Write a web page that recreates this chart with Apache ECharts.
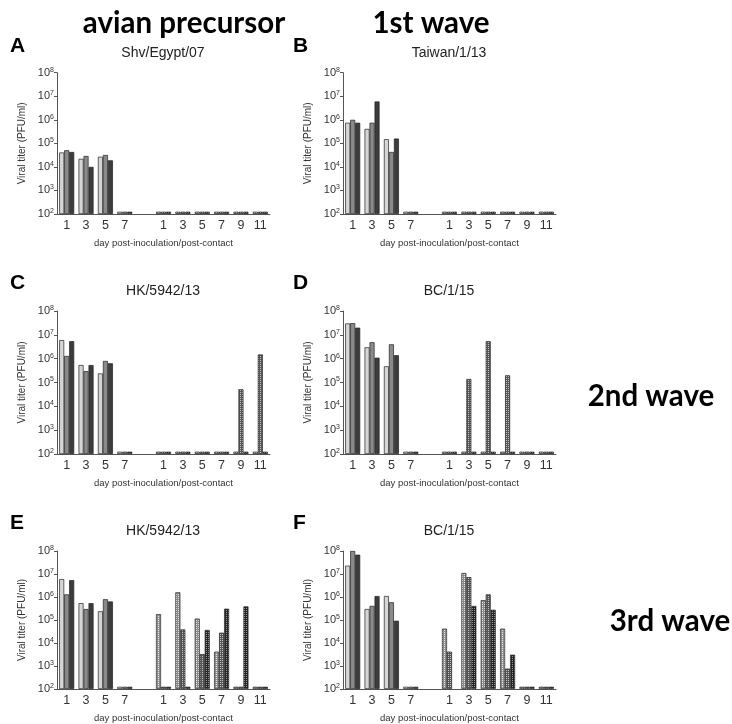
<!DOCTYPE html>
<html><head><meta charset="utf-8">
<script src="https://cdn.jsdelivr.net/npm/echarts@6/dist/echarts.min.js"></script>
<style>html,body{margin:0;padding:0;background:#fff}#c{width:732px;height:724px}</style>
</head><body><div id="c"></div>
<script>
// ---------- data ----------
const categories = ['1','3','5','7','','1','3','5','7','9','11'];
const panelLetters = ['A','B','C','D','E','F'];
const panelTitles = ['Shv/Egypt/07','Taiwan/1/13','HK/5942/13','BC/1/15','HK/5942/13','BC/1/15'];
const waveLabels = ['avian precursor','1st wave','2nd wave','3rd wave'];
const xAxisTitle = 'day post-inoculation/post-contact';
const yAxisTitle = 'Viral titer (PFU/ml)';

// inoculated animals: values for days 1,3,5,7 (one row per animal)
const A_inoculated = [[4.1e4,2.2e4,2.7e4,125],[5.1e4,2.9e4,3.2e4,125],[4.3e4,1.0e4,1.9e4,125]];
// contact animals: values for days 1,3,5,7,9,11
const A_contact = [[125,125,125,125,125,125],[125,125,125,125,125,125],[125,125,125,125,125,125]];

const B_inoculated = [[7.5e5,4.1e5,1.5e5,125],[1.0e6,7.5e5,4.3e4,125],[7.5e5,6.0e6,1.6e5,125]];
const B_contact = [[125,125,125,125,125,125],[125,125,125,125,125,125],[125,125,125,125,125,125]];

const C_inoculated = [[6.0e6,5.4e5,2.4e5,125],[1.3e6,3.0e5,8.0e5,125],[5.4e6,5.4e5,6.4e5,125]];
const C_contact = [[125,125,125,125,125,125],[125,125,125,125,5.2e4,1.5e6],[125,125,125,125,125,125]];

const D_inoculated = [[3.0e7,3.0e6,4.8e5,125],[3.1e7,4.9e6,4.0e6,125],[2.0e7,1.1e6,1.4e6,125]];
const D_contact = [[125,125,125,125,125,125],[125,1.4e5,5.4e6,2.0e5,125,125],[125,125,125,125,125,125]];

const E_inoculated = [[6.0e6,5.4e5,2.4e5,125],[1.3e6,3.0e5,8.0e5,125],[5.4e6,5.4e5,6.4e5,125]];
const E_contact = [[1.8e5,1.6e6,1.15e5,4.2e3,125,125],[125,3.9e4,3.3e3,2.8e4,125,125],[125,125,3.7e4,3.1e5,3.9e5,125]];

const F_inoculated = [[2.3e7,3.0e5,1.1e6,125],[1.0e8,4.1e5,5.9e5,125],[6.9e7,1.1e6,9.3e4,125]];
const F_contact = [[4.2e4,1.1e7,7.3e5,4.2e4,125,125],[4.2e3,7.3e6,1.3e6,7.7e2,125,125],[null,4.1e5,2.8e5,3.1e3,125,125]];

const panelsInoculated = [A_inoculated,B_inoculated,C_inoculated,D_inoculated,E_inoculated,F_inoculated];
const panelsContact = [A_contact,B_contact,C_contact,D_contact,E_contact,F_contact];

// ---------- layout & style ----------
const gridBoxes = [
  {left:57, top:72.7, width:213, height:141.3},
  {left:343, top:72.7, width:213, height:141.3},
  {left:57, top:311, width:213, height:143},
  {left:343, top:311, width:213, height:143},
  {left:57, top:551, width:213, height:142.3},
  {left:343, top:551, width:213, height:142.3}
];
const FONT = '"Liberation Sans", Arial, sans-serif';
const solidColors = ['#d6d6d6','#8a8a8a','#3c3c3c'];
function makePattern(dot, bg){
  const c = document.createElement('canvas');
  c.width = 2; c.height = 2;
  const g = c.getContext('2d');
  g.fillStyle = bg; g.fillRect(0,0,2,2);
  g.fillStyle = dot; g.fillRect(0,0,1,1);
  return {image: c, repeat: 'repeat'};
}
const patternColors = [makePattern('#e8e8e8','#8c8c8c'), makePattern('#c4c4c4','#575757'), makePattern('#9a9a9a','#252525')];

const grid = [], xAxis = [], yAxis = [], series = [], graphic = [];
gridBoxes.forEach((b, i) => {
  grid.push({left:b.left, top:b.top, width:b.width, height:b.height, containLabel:false});
  xAxis.push({
    type:'category', gridIndex:i, data:categories,
    axisLine:{lineStyle:{color:'#555', width:1}},
    axisTick:{alignWithLabel:true, length:3, lineStyle:{color:'#555'}},
    axisLabel:{interval:0, fontSize:12.5, color:'#333', margin:5, fontFamily:FONT},
    name:xAxisTitle, nameLocation:'middle', nameGap:24,
    nameTextStyle:{fontSize:9.5, color:'#333', fontFamily:FONT}
  });
  yAxis.push({
    type:'log', logBase:10, gridIndex:i, min:100, max:1e8, startValue:100,
    axisLine:{show:true, lineStyle:{color:'#555', width:1}},
    axisTick:{show:true, length:3, lineStyle:{color:'#555'}},
    splitLine:{show:false},
    axisLabel:{
      margin:3, color:'#333', fontFamily:FONT,
      formatter: v => '{b|10}{s|' + Math.round(Math.log10(v)) + '}',
      rich:{b:{fontSize:11, color:'#333', fontFamily:FONT}, s:{fontSize:7, color:'#333', verticalAlign:'top', fontFamily:FONT, padding:[0,0,6,0]}}
    },
    name:yAxisTitle, nameLocation:'middle', nameGap:30,
    nameTextStyle:{fontSize:10, color:'#333', fontFamily:FONT}
  });
  for (let k = 0; k < 3; k++) {
    const inoc = panelsInoculated[i][k];
    const cont = panelsContact[i][k];
    const data = inoc.map(v => v).concat([null]).concat(cont.map(v => v == null ? null : {value:v, itemStyle:{color:patternColors[k]}}));
    series.push({
      type:'bar', xAxisIndex:i, yAxisIndex:i, data:data,
      barWidth:5, barGap:'0%', clip:true, silent:true,
      itemStyle:{color:solidColors[k], borderColor:'#222', borderWidth:0.7}
    });
  }
  // panel letter and title
  const cx = b.left + 106;
  graphic.push({type:'text', left: b.left < 100 ? 10 : 293, top: b.top - (i < 2 ? 37 : 38),
    style:{text:panelLetters[i], font:'bold 21px ' + FONT, fill:'#000'}});
  graphic.push({type:'text', x: cx, y: b.top - 20,
    style:{text:panelTitles[i], font:'14px ' + FONT, fill:'#222', textAlign:'center', textVerticalAlign:'middle'}});
});
const waveFont = 'bold 29.5px Lato, "Open Sans", sans-serif';
graphic.push({type:'text', x:184, y:23, style:{text:waveLabels[0], font:waveFont, fill:'#000', textAlign:'center', textVerticalAlign:'middle'}});
graphic.push({type:'text', x:431, y:23, style:{text:waveLabels[1], font:waveFont, fill:'#000', textAlign:'center', textVerticalAlign:'middle'}});
graphic.push({type:'text', x:651, y:396, style:{text:waveLabels[2], font:waveFont, fill:'#000', textAlign:'center', textVerticalAlign:'middle'}});
graphic.push({type:'text', x:670, y:621, style:{text:waveLabels[3], font:waveFont, fill:'#000', textAlign:'center', textVerticalAlign:'middle'}});

const chart = echarts.init(document.getElementById('c'), null, {renderer:'canvas'});
chart.setOption({animation:false, backgroundColor:'#fff', grid, xAxis, yAxis, series, graphic});
</script></body></html>
